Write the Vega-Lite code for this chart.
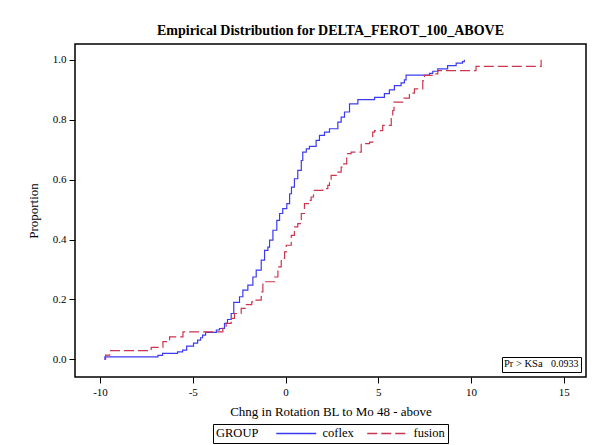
{
  "$schema": "https://vega.github.io/schema/vega-lite/v6.json",
  "width": 511,
  "height": 333,
  "autosize": {"type": "none"},
  "padding": {"left": 75, "top": 44, "right": 8, "bottom": 68},
  "background": "white",
  "title": {
    "text": "Empirical Distribution for DELTA_FEROT_100_ABOVE",
    "font": "Liberation Serif",
    "fontSize": 14,
    "fontWeight": "bold",
    "color": "black",
    "offset": 6
  },
  "datasets": {
    "ecdf": [
      {"group": "coflex", "x": -9.76, "y": 0.0},
      {"group": "coflex", "x": -9.74, "y": 0.008},
      {"group": "coflex", "x": -6.88, "y": 0.013},
      {"group": "coflex", "x": -6.63, "y": 0.02},
      {"group": "coflex", "x": -5.82, "y": 0.025},
      {"group": "coflex", "x": -5.55, "y": 0.031},
      {"group": "coflex", "x": -5.33, "y": 0.044},
      {"group": "coflex", "x": -4.96, "y": 0.054},
      {"group": "coflex", "x": -4.74, "y": 0.064},
      {"group": "coflex", "x": -4.58, "y": 0.072},
      {"group": "coflex", "x": -4.47, "y": 0.081},
      {"group": "coflex", "x": -4.31, "y": 0.09},
      {"group": "coflex", "x": -3.73, "y": 0.098},
      {"group": "coflex", "x": -3.56, "y": 0.103},
      {"group": "coflex", "x": -3.29, "y": 0.12},
      {"group": "coflex", "x": -3.13, "y": 0.133},
      {"group": "coflex", "x": -2.93, "y": 0.153},
      {"group": "coflex", "x": -2.79, "y": 0.19},
      {"group": "coflex", "x": -2.48, "y": 0.209},
      {"group": "coflex", "x": -2.3, "y": 0.231},
      {"group": "coflex", "x": -2.03, "y": 0.248},
      {"group": "coflex", "x": -1.76, "y": 0.275},
      {"group": "coflex", "x": -1.58, "y": 0.298},
      {"group": "coflex", "x": -1.31, "y": 0.331},
      {"group": "coflex", "x": -1.13, "y": 0.364},
      {"group": "coflex", "x": -0.95, "y": 0.375},
      {"group": "coflex", "x": -0.86, "y": 0.398},
      {"group": "coflex", "x": -0.68, "y": 0.431},
      {"group": "coflex", "x": -0.47, "y": 0.464},
      {"group": "coflex", "x": -0.32, "y": 0.487},
      {"group": "coflex", "x": -0.15, "y": 0.503},
      {"group": "coflex", "x": 0.07, "y": 0.52},
      {"group": "coflex", "x": 0.22, "y": 0.553},
      {"group": "coflex", "x": 0.32, "y": 0.575},
      {"group": "coflex", "x": 0.48, "y": 0.603},
      {"group": "coflex", "x": 0.66, "y": 0.631},
      {"group": "coflex", "x": 0.85, "y": 0.664},
      {"group": "coflex", "x": 0.93, "y": 0.692},
      {"group": "coflex", "x": 1.12, "y": 0.703},
      {"group": "coflex", "x": 1.29, "y": 0.711},
      {"group": "coflex", "x": 1.65, "y": 0.731},
      {"group": "coflex", "x": 1.83, "y": 0.748},
      {"group": "coflex", "x": 2.1, "y": 0.759},
      {"group": "coflex", "x": 2.37, "y": 0.77},
      {"group": "coflex", "x": 2.82, "y": 0.792},
      {"group": "coflex", "x": 3.0, "y": 0.809},
      {"group": "coflex", "x": 3.18, "y": 0.826},
      {"group": "coflex", "x": 3.45, "y": 0.853},
      {"group": "coflex", "x": 3.9, "y": 0.867},
      {"group": "coflex", "x": 4.8, "y": 0.875},
      {"group": "coflex", "x": 5.33, "y": 0.887},
      {"group": "coflex", "x": 5.6, "y": 0.9},
      {"group": "coflex", "x": 5.87, "y": 0.914},
      {"group": "coflex", "x": 6.23, "y": 0.923},
      {"group": "coflex", "x": 6.41, "y": 0.933},
      {"group": "coflex", "x": 6.5, "y": 0.949},
      {"group": "coflex", "x": 7.76, "y": 0.955},
      {"group": "coflex", "x": 7.94, "y": 0.962},
      {"group": "coflex", "x": 8.21, "y": 0.97},
      {"group": "coflex", "x": 8.74, "y": 0.981},
      {"group": "coflex", "x": 9.2, "y": 0.989},
      {"group": "coflex", "x": 9.54, "y": 0.994},
      {"group": "coflex", "x": 9.64, "y": 1.0},
      {"group": "fusion", "x": -9.75, "y": 0.0},
      {"group": "fusion", "x": -9.7, "y": 0.014},
      {"group": "fusion", "x": -9.48, "y": 0.029},
      {"group": "fusion", "x": -7.24, "y": 0.04},
      {"group": "fusion", "x": -6.61, "y": 0.059},
      {"group": "fusion", "x": -6.25, "y": 0.075},
      {"group": "fusion", "x": -5.53, "y": 0.092},
      {"group": "fusion", "x": -3.38, "y": 0.107},
      {"group": "fusion", "x": -3.2, "y": 0.12},
      {"group": "fusion", "x": -2.93, "y": 0.137},
      {"group": "fusion", "x": -2.75, "y": 0.153},
      {"group": "fusion", "x": -2.39, "y": 0.17},
      {"group": "fusion", "x": -2.12, "y": 0.183},
      {"group": "fusion", "x": -1.82, "y": 0.192},
      {"group": "fusion", "x": -1.67, "y": 0.198},
      {"group": "fusion", "x": -1.31, "y": 0.225},
      {"group": "fusion", "x": -1.22, "y": 0.259},
      {"group": "fusion", "x": -0.59, "y": 0.275},
      {"group": "fusion", "x": -0.41, "y": 0.309},
      {"group": "fusion", "x": -0.23, "y": 0.337},
      {"group": "fusion", "x": -0.05, "y": 0.359},
      {"group": "fusion", "x": 0.04, "y": 0.381},
      {"group": "fusion", "x": 0.31, "y": 0.414},
      {"group": "fusion", "x": 0.48, "y": 0.442},
      {"group": "fusion", "x": 0.66, "y": 0.453},
      {"group": "fusion", "x": 0.85, "y": 0.487},
      {"group": "fusion", "x": 1.02, "y": 0.52},
      {"group": "fusion", "x": 1.29, "y": 0.531},
      {"group": "fusion", "x": 1.38, "y": 0.542},
      {"group": "fusion", "x": 1.51, "y": 0.564},
      {"group": "fusion", "x": 2.01, "y": 0.57},
      {"group": "fusion", "x": 2.28, "y": 0.581},
      {"group": "fusion", "x": 2.37, "y": 0.592},
      {"group": "fusion", "x": 2.46, "y": 0.614},
      {"group": "fusion", "x": 2.82, "y": 0.625},
      {"group": "fusion", "x": 3.0, "y": 0.642},
      {"group": "fusion", "x": 3.09, "y": 0.653},
      {"group": "fusion", "x": 3.3, "y": 0.687},
      {"group": "fusion", "x": 3.54, "y": 0.692},
      {"group": "fusion", "x": 4.08, "y": 0.72},
      {"group": "fusion", "x": 4.53, "y": 0.725},
      {"group": "fusion", "x": 4.7, "y": 0.759},
      {"group": "fusion", "x": 4.8, "y": 0.764},
      {"group": "fusion", "x": 5.24, "y": 0.781},
      {"group": "fusion", "x": 5.7, "y": 0.809},
      {"group": "fusion", "x": 5.78, "y": 0.831},
      {"group": "fusion", "x": 5.85, "y": 0.859},
      {"group": "fusion", "x": 6.32, "y": 0.872},
      {"group": "fusion", "x": 6.68, "y": 0.889},
      {"group": "fusion", "x": 6.95, "y": 0.903},
      {"group": "fusion", "x": 7.4, "y": 0.931},
      {"group": "fusion", "x": 7.49, "y": 0.948},
      {"group": "fusion", "x": 8.03, "y": 0.953},
      {"group": "fusion", "x": 8.21, "y": 0.964},
      {"group": "fusion", "x": 10.27, "y": 0.978},
      {"group": "fusion", "x": 13.78, "y": 1.0}
    ],
    "ks": [{"stat": "0.0933"}]
  },
  "layer": [
    {
      "data": {"name": "ecdf"},
      "mark": {"type": "line", "interpolate": "step-after", "strokeWidth": 1.2},
      "encoding": {
        "x": {
          "field": "x",
          "type": "quantitative",
          "scale": {"domain": [-11.35, 16.2], "nice": false, "zero": false},
          "axis": {
            "values": [-10, -5, 0, 5, 10, 15],
            "labelExpr": "replace(datum.label, '\u2212', '-')",
            "title": "Chng in Rotation BL to Mo 48 - above",
            "titlePadding": 8
          }
        },
        "y": {
          "field": "y",
          "type": "quantitative",
          "scale": {"domain": [-0.059, 1.053], "nice": false, "zero": false},
          "axis": {"values": [0, 0.2, 0.4, 0.6, 0.8, 1.0], "format": ".1f", "title": "Proportion", "titlePadding": 12}
        },
        "color": {
          "field": "group",
          "type": "nominal",
          "scale": {"domain": ["coflex", "fusion"], "range": ["#3b3bef", "#cc3550"]},
          "legend": {"title": "GROUP"}
        },
        "strokeDash": {
          "field": "group",
          "type": "nominal",
          "scale": {"domain": ["coflex", "fusion"], "range": [[1, 0], [10, 4]]},
          "legend": {"title": "GROUP"}
        }
      }
    },
    {
      "data": {"name": "ks"},
      "mark": {"type": "point", "opacity": 0},
      "encoding": {
        "shape": {
          "field": "stat",
          "type": "nominal",
          "legend": {
            "title": "Pr > KSa",
            "orient": "bottom-right",
            "offset": 5,
            "padding": 2,
            "strokeColor": "black",
            "titleOrient": "left",
            "titleFontSize": 10.5,
            "titlePadding": 6,
            "labelFontSize": 10,
            "symbolType": "circle",
            "symbolSize": 0,
            "symbolStrokeWidth": 0,
            "symbolOpacity": 0,
            "labelOffset": -8
          }
        }
      }
    }
  ],
  "resolve": {"legend": {"shape": "independent"}},
  "config": {
    "font": "Liberation Serif",
    "view": {"stroke": "black", "strokeWidth": 1.5},
    "axis": {
      "domain": false,
      "grid": false,
      "ticks": true,
      "tickColor": "black",
      "tickSize": 6,
      "labelFont": "Liberation Serif",
      "labelFontSize": 11,
      "labelColor": "black",
      "labelPadding": 3,
      "titleFont": "Liberation Serif",
      "titleFontSize": 13,
      "titleFontWeight": "normal",
      "titleColor": "black"
    },
    "legend": {
      "orient": "bottom",
      "direction": "horizontal",
      "layout": {"bottom": {"anchor": "middle"}},
      "titleOrient": "left",
      "titleFont": "Liberation Serif",
      "titleFontSize": 12.5,
      "titleFontWeight": "normal",
      "titleColor": "black",
      "titlePadding": 13,
      "labelFont": "Liberation Serif",
      "labelFontSize": 12.5,
      "labelColor": "black",
      "labelOffset": 38,
      "columnPadding": 9,
      "symbolType": "M-1,0H19",
      "symbolSize": 16,
      "symbolStrokeWidth": 1.5,
      "strokeColor": "black",
      "padding": 3,
      "offset": 6
    }
  }
}
